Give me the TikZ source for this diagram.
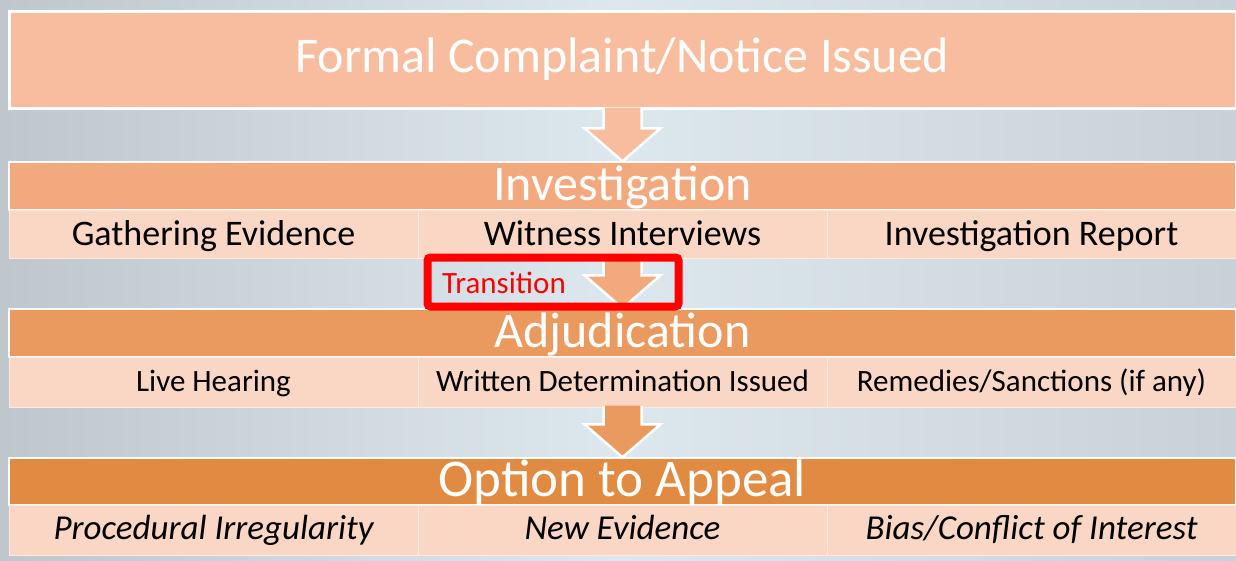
\documentclass[tikz,border=0pt]{standalone}
\usepackage{fontspec}
\setmainfont{Carlito}
\usetikzlibrary{calc}
\definecolor{bgmid}{HTML}{DDE8EE}
\definecolor{bgedge}{HTML}{BFC7CD}
\definecolor{topcol}{HTML}{F8BD9E}
\definecolor{invcol}{HTML}{F2A97D}
\definecolor{adjcol}{HTML}{EB9A5F}
\definecolor{appcol}{HTML}{E08A42}
\definecolor{cellcol}{HTML}{FAD6C5}
\newcommand{\flowarrow}[3]{\draw[blockarrow=#1] ($(#2.south)+(-19,-2)$) -- ($(#3.north)+(-19,-33)$) -- ($(#3.north)+(-38,-33)$) -- (#3.north) -- ($(#3.north)+(38,-33)$) -- ($(#3.north)+(19,-33)$) -- ($(#2.south)+(19,-2)$);}
\tikzset{
  head/.style={draw=white, line width=1.5pt, minimum width=1227, minimum height=48, inner sep=0pt, text=white, text height=36, text depth=8, font=\fontsize{50}{54}\selectfont},
  cell/.style={draw=white!50!cellcol, line width=1pt, fill=cellcol, minimum width=409, minimum height=48, inner sep=0pt, text height=28, text depth=6, font=\fontsize{36}{40}\selectfont},
  blockarrow/.style={draw=white, line width=2.5pt, line join=miter, fill=#1},
}
\begin{document}
\begin{tikzpicture}[x=1pt,y=-1pt]
            \useasboundingbox (0,0) rectangle (1236,560);
            \fill[left color=bgedge, right color=bgedge!70!bgmid, middle color=bgmid] (0,0) rectangle (1236,560);

            \node[head, fill=topcol, minimum height=97, line width=3pt, text depth=11](complaint) at (622.5,59.5) {Formal Complaint/Notice Issued};

            \node[head, fill=invcol](inv) at (622.5,186) {Investigation};
            \node[cell](gather) at (213.5,234) {Gathering Evidence};
            \node[cell](witness) at (622.5,234) {Witness Interviews};
            \node[cell](report) at (1031.5,234) {Investigation Report};

            \node[head, fill=adjcol](adj) at (622.5,333) {Adjudication};
            \node[cell, minimum height=50, text height=25, text depth=7, font=\fontsize{31}{35}\selectfont](hearing) at (213.5,382) {Live Hearing};
            \node[cell, minimum height=50, text height=25, text depth=7, font=\fontsize{31}{35}\selectfont](written) at (622.5,382) {Written Determination Issued};
            \node[cell, minimum height=50, text height=25, text depth=7, font=\fontsize{31}{35}\selectfont](remedies) at (1031.5,382) {Remedies/Sanctions (if any)};

            \node[head, fill=appcol, minimum height=47, text height=37, font=\fontsize{53}{57}\selectfont](appeal) at (622.5,481.5) {Option to Appeal};
            \node[cell, minimum height=50, text height=26, text depth=8, font=\fontsize{35}{39}\selectfont\itshape](irreg) at (213.5,530) {Procedural Irregularity};
            \node[cell, minimum height=50, text height=26, text depth=8, font=\fontsize{35}{39}\selectfont\itshape](newev) at (622.5,530) {New Evidence};
            \node[cell, minimum height=50, text height=26, text depth=8, font=\fontsize{35}{39}\selectfont\itshape](bias) at (1031.5,530) {Bias/Conflict of Interest};

            \flowarrow{topcol}{complaint}{inv}
            \flowarrow{invcol}{witness}{adj}
            \flowarrow{adjcol}{written}{appeal}

            \node[draw=red, line width=8pt, rounded corners=3pt, minimum width=251, minimum height=49, inner sep=0pt](transbox) at (553,282) {};
            \node[text=red, anchor=base, font=\fontsize{31}{34}\selectfont](trans) at (504,293) {Transition};
          \end{tikzpicture}
\end{document}
